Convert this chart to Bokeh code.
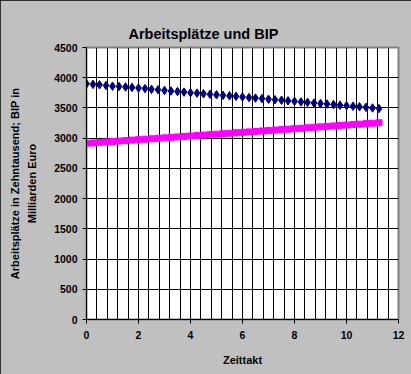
from bokeh.plotting import figure
from bokeh.models import Range1d, SingleIntervalTicker
from bokeh.embed import file_html
from bokeh.resources import INLINE

# ---- data ----
zeittakt = [0.0, 0.25, 0.5, 0.75, 1.0, 1.25, 1.5, 1.75, 2.0, 2.25, 2.5, 2.75,
            3.0, 3.25, 3.5, 3.75, 4.0, 4.25, 4.5, 4.75, 5.0, 5.25, 5.5, 5.75,
            6.0, 6.25, 6.5, 6.75, 7.0, 7.25, 7.5, 7.75, 8.0, 8.25, 8.5, 8.75,
            9.0, 9.25, 9.5, 9.75, 10.0, 10.25, 10.5, 10.75, 11.0, 11.25]
arbeitsplaetze = [3900, 3890, 3883, 3872, 3860, 3855, 3846, 3840, 3830, 3820, 3808, 3802,
                  3790, 3780, 3772, 3762, 3752, 3745, 3735, 3726, 3718, 3708, 3700, 3692,
                  3682, 3672, 3664, 3655, 3645, 3636, 3628, 3618, 3610, 3600, 3592, 3582,
                  3574, 3565, 3556, 3546, 3538, 3528, 3520, 3510, 3500, 3490]
bip = [2915, 2922, 2930, 2937, 2945, 2952, 2960, 2968, 2975, 2983, 2990, 2998,
       3005, 3013, 3021, 3028, 3036, 3043, 3051, 3058, 3066, 3074, 3081, 3089,
       3096, 3104, 3111, 3119, 3126, 3134, 3142, 3149, 3157, 3164, 3172, 3179,
       3187, 3195, 3202, 3210, 3217, 3225, 3232, 3240, 3247, 3255]

title_text = "Arbeitsplätze und BIP"
x_label = "Zeittakt"
y_label = "Arbeitsplätze in Zehntausend; BIP in\nMilliarden Euro"

FONT = "Liberation Sans"

p = figure(width=411, height=374, output_backend="svg", toolbar_location=None,
           x_range=Range1d(0, 12), y_range=Range1d(0, 4500),
           min_border_left=86, min_border_right=13, min_border_top=47, min_border_bottom=55,
           background_fill_color="white", border_fill_color="#C0C0C0",
           outline_line_color="#808080", outline_line_width=2)
p.styles = {"outline": "1px solid black", "outline-offset": "-1px"}

p.title.text = title_text
p.title.text_font = FONT
p.title.text_font_size = "14.5px"
p.title.text_font_style = "bold"
p.title.text_color = "black"
p.title.align = "left"
p.title.offset = 42
p.title.standoff = 12

p.xaxis.ticker = SingleIntervalTicker(interval=2, num_minor_ticks=5)
p.yaxis.ticker = SingleIntervalTicker(interval=500, num_minor_ticks=0)

for ax in (p.xaxis, p.yaxis):
    ax.axis_line_color = "black"
    ax.major_tick_line_color = "black"
    ax.major_tick_in = 0
    ax.major_tick_out = 4
    ax.minor_tick_line_color = None
    ax.major_label_text_font = FONT
    ax.major_label_text_font_size = "10.5px"
    ax.major_label_text_font_style = "bold"
    ax.major_label_text_color = "black"
    ax.axis_label_text_font = FONT
    ax.axis_label_text_font_size = "11px"
    ax.axis_label_text_font_style = "bold"
    ax.axis_label_text_color = "black"

p.xaxis.axis_label = x_label
p.xaxis.major_label_standoff = 7
p.xaxis.axis_label_standoff = 12
p.yaxis.axis_label = y_label
p.yaxis.major_label_standoff = 5
p.yaxis.axis_label_standoff = 13
p.yaxis.axis_label_text_line_height = 1.45

p.xgrid.grid_line_color = "black"
p.xgrid.minor_grid_line_color = "black"
p.ygrid.grid_line_color = "black"

p.scatter(zeittakt, arbeitsplaetze, marker="diamond", size=8.5,
          fill_color="#000080", line_color="#000080")
p.scatter(zeittakt, bip, marker="square", size=6,
          fill_color="#FF00FF", line_color="#FF00FF")

open("out.html", "w").write(file_html(p, INLINE))
